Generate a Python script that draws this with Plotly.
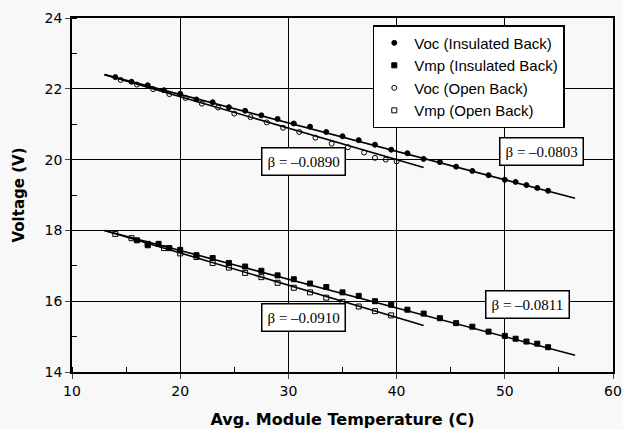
import plotly.graph_objects as go

# ---- data ----
voc_ins_t = [14, 15.5, 17, 18.5, 20, 21.5, 23, 24.5, 26, 27.5, 29, 30.5, 32, 33.5, 35,
             36.5, 38, 39.5, 41, 42.5, 44, 45.5, 47, 48.5, 50, 51, 52, 53, 54]
voc_ins_v = [22.33, 22.20, 22.10, 21.96, 21.86, 21.70, 21.62, 21.48, 21.38, 21.25, 21.15,
             21.02, 20.93, 20.78, 20.66, 20.55, 20.42, 20.28, 20.18, 20.02, 19.93, 19.80,
             19.68, 19.56, 19.43, 19.37, 19.28, 19.20, 19.12]

vmp_ins_t = [16, 17, 18, 19, 20, 21.5, 23, 24.5, 26, 27.5, 29, 30.5, 32, 33.5, 35,
             36.5, 38, 39.5, 41, 42.5, 44, 45.5, 47, 48.5, 50, 51, 52, 53, 54]
vmp_ins_v = [17.72, 17.58, 17.62, 17.50, 17.45, 17.30, 17.22, 17.08, 16.98, 16.86, 16.73,
             16.62, 16.50, 16.40, 16.25, 16.15, 16.00, 15.90, 15.76, 15.65, 15.52, 15.38,
             15.28, 15.14, 15.02, 14.94, 14.86, 14.80, 14.70]

voc_open_t = [14.5, 16, 17.5, 19, 20.5, 22, 23.5, 25, 26.5, 28, 29.5, 31, 32.5, 34,
              35.5, 37, 38, 39, 40]
voc_open_v = [22.25, 22.12, 21.99, 21.85, 21.74, 21.58, 21.47, 21.30, 21.20, 21.05, 20.90,
              20.78, 20.62, 20.45, 20.35, 20.20, 20.05, 20.00, 19.95]

vmp_open_t = [14, 15.5, 17, 18.5, 20, 21.5, 23, 24.5, 26, 27.5, 29, 30.5, 32, 33.5, 35,
              36.5, 38, 39.5]
vmp_open_v = [17.90, 17.78, 17.62, 17.50, 17.35, 17.25, 17.08, 16.95, 16.80, 16.68, 16.52,
              16.38, 16.25, 16.10, 15.98, 15.85, 15.72, 15.60]

# fitted trend lines: start temperature, end temperature, voltage at start, slope (beta)
fit_t0 = [13, 13, 13, 13]
fit_t1 = [56.5, 56.5, 42.5, 42.5]
fit_v0 = [22.40, 18.00, 22.40, 18.00]
fit_beta = [-0.0803, -0.0811, -0.0890, -0.0910]

# beta labels: text, anchor temperature, anchor voltage
beta_text = ["\u03b2 = \u20130.0803", "\u03b2 = \u20130.0811", "\u03b2 = \u20130.0890", "\u03b2 = \u20130.0910"]
beta_t = [53.4, 52.1, 31.35, 31.4]
beta_v = [20.24, 15.90, 19.96, 15.53]

x_ticks = [10, 20, 30, 40, 50, 60]
y_ticks = [14, 16, 18, 20, 22, 24]

fig = go.Figure()

# trend lines
for i in range(4):
    xs = [fit_t0[i], fit_t1[i]]
    ys = [fit_v0[i] + fit_beta[i] * (x - fit_t0[i]) for x in xs]
    fig.add_trace(go.Scatter(x=xs, y=ys, mode="lines", line=dict(color="black", width=1.6),
                             showlegend=False, hoverinfo="skip"))

series = [
    ("Voc (Insulated Back)", voc_ins_t, voc_ins_v, "circle"),
    ("Vmp (Insulated Back)", vmp_ins_t, vmp_ins_v, "square"),
    ("Voc (Open Back)", voc_open_t, voc_open_v, "circle-open"),
    ("Vmp (Open Back)", vmp_open_t, vmp_open_v, "square-open"),
]
for name, t, v, sym in series:
    fig.add_trace(go.Scatter(x=t, y=v, mode="markers", name=name,
                             marker=dict(symbol=sym, size=5, color="black",
                                         line=dict(color="black", width=1))))

for txt, t, v in zip(beta_text, beta_t, beta_v):
    fig.add_annotation(x=t, y=v, text=txt, showarrow=False,
                       font=dict(family="Liberation Serif", size=15, color="black"),
                       bgcolor="white", bordercolor="black", borderwidth=1.5, borderpad=5)

tick_font = dict(family="DejaVu Sans", size=14, color="black")
fig.update_layout(
    width=623, height=429,
    margin=dict(l=72, r=10, t=18, b=57),
    paper_bgcolor="#f8f8f8", plot_bgcolor="#f8f8f8",
    font=tick_font,
    legend=dict(x=0.556, y=0.98, xanchor="left", yanchor="top",
                bgcolor="white", bordercolor="black", borderwidth=1.5,
                font=dict(family="Liberation Sans", size=15, color="black"),
                tracegroupgap=0, itemwidth=30),
    xaxis=dict(range=[10, 60], tickvals=x_ticks, ticks="outside", ticklen=5,
               tickfont=tick_font, automargin=False, ticklabeloverflow="allow",
               showgrid=True, gridcolor="black", gridwidth=1,
               showline=True, linecolor="black", linewidth=1.5, mirror=True,
               zeroline=False,
               minor=dict(dtick=5, ticks="inside", ticklen=5, tickcolor="black", showgrid=False),
               title=dict(text="<b>Avg. Module Temperature (C)</b>",
                          font=dict(family="DejaVu Sans", size=16), standoff=16)),
    yaxis=dict(range=[14, 24], tickvals=y_ticks, ticks="outside", ticklen=5,
               tickfont=tick_font, automargin=False,
               showgrid=True, gridcolor="black", gridwidth=1,
               showline=True, linecolor="black", linewidth=1.5, mirror=True,
               zeroline=False,
               minor=dict(dtick=1, ticks="inside", ticklen=5, tickcolor="black", showgrid=False),
               title=dict(text="<b>Voltage (V)</b>",
                          font=dict(family="DejaVu Sans", size=15), standoff=16)),
)

# remove the default 8px page margin so the figure fills the window exactly
fig.write_html("out.html", config={"displayModeBar": False},
               post_script="document.body.style.margin='0';")
